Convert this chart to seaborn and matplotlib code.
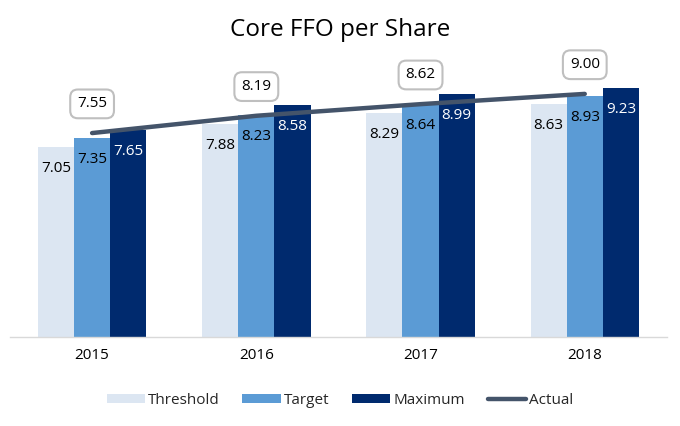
import matplotlib
matplotlib.use("Agg")
import matplotlib.pyplot as plt
import seaborn as sns
import pandas as pd
from matplotlib.patches import Patch
from matplotlib.lines import Line2D

years = ["2015", "2016", "2017", "2018"]
threshold = [7.05, 7.88, 8.29, 8.63]
target = [7.35, 8.23, 8.64, 8.93]
maximum = [7.65, 8.58, 8.99, 9.23]
actual = [7.55, 8.19, 8.62, 9.00]
series_names = ["Threshold", "Target", "Maximum"]
colors = ["#DCE6F2", "#5B9BD5", "#002A6E"]
label_colors = ["#000000", "#000000", "#FFFFFF"]
line_color = "#44546A"

sns.set_theme(style="white")
plt.rcParams["font.family"] = ["Open Sans", "DejaVu Sans"]

rows = []
for name, vals in zip(series_names, [threshold, target, maximum]):
    for y, v in zip(years, vals):
        rows.append({"Year": y, "Series": name, "Value": v})
df = pd.DataFrame(rows)

fig = plt.figure(figsize=(6.8, 4.26), dpi=100)
ax = fig.add_axes([0.0147, 0.209, 0.966, 0.634])
sns.barplot(data=df, x="Year", y="Value", hue="Series", hue_order=series_names,
            palette=colors, width=0.66, ax=ax, legend=False, saturation=1,
            linewidth=0, edgecolor="none")

for i, cont in enumerate(ax.containers):
    for bar in cont:
        h = bar.get_height()
        ax.annotate(f"{h:.2f}", (bar.get_x() + bar.get_width() / 2, h),
                    xytext=(0, -15.5), textcoords="offset points",
                    ha="center", va="center", fontsize=11, color=label_colors[i])

xs = list(range(len(years)))
ax.plot(xs, actual, color=line_color, lw=3.2, solid_capstyle="round", zorder=5)
for x, v in zip(xs, actual):
    ax.annotate(f"{v:.2f}", (x, v), xytext=(0, 21), textcoords="offset points",
                ha="center", va="center", fontsize=11, color="#000000",
                bbox=dict(boxstyle="round,pad=0.45,rounding_size=0.5", fc="white",
                          ec="#BFBFBF", lw=1.5), zorder=6)

ax.set_ylim(0, 10)
ax.set_xlim(-0.5, 3.5)
ax.set_yticks([])
ax.set_xlabel("")
ax.set_ylabel("")
ax.tick_params(axis="x", length=0, labelsize=11, pad=8, labelcolor="#000000")
for s in ["top", "right", "left"]:
    ax.spines[s].set_visible(False)
ax.spines["bottom"].set_color("#D9D9D9")
ax.spines["bottom"].set_linewidth(1)

fig.text(0.5, 0.93, "Core FFO per Share", ha="center", va="center", fontsize=17.5, color="#000000")

handles = [Patch(facecolor=c, edgecolor="none") for c in colors]
handles.append(Line2D([0], [0], color=line_color, lw=3.2, solid_capstyle="round"))
fig.legend(handles, series_names + ["Actual"], loc="center", bbox_to_anchor=(0.5, 0.06),
           ncol=4, frameon=False, fontsize=11, handlelength=2.5, handleheight=0.6,
           columnspacing=1.5, handletextpad=0.2)

fig.savefig("out.png", dpi=100)
